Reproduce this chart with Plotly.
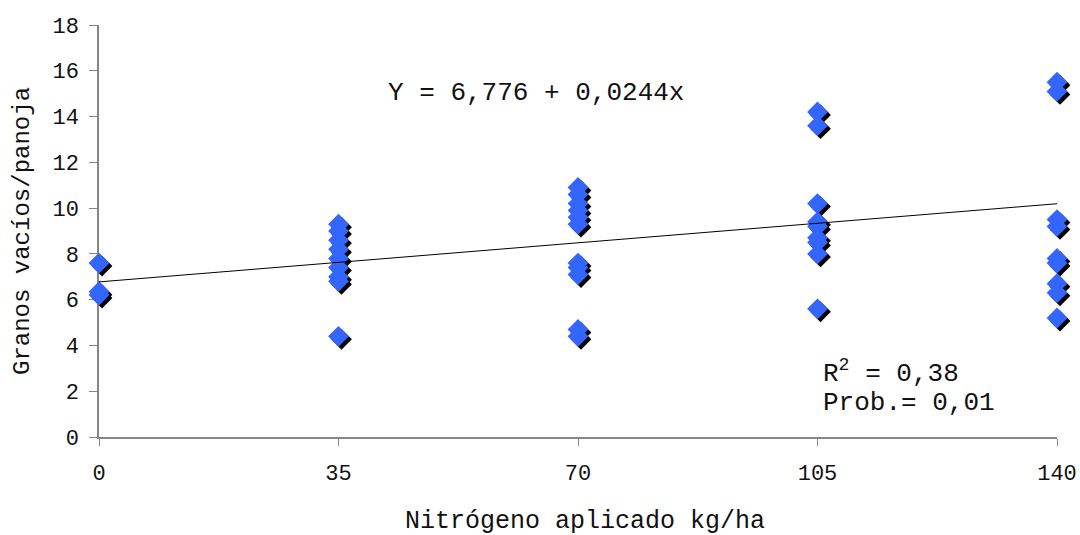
import plotly.graph_objects as go

# Nitrogen rate (kg/ha) and empty grains per panicle
nitrogen_levels = [0, 35, 70, 105, 140]
grains_n0 = [7.6, 6.35, 6.2]
grains_n35 = [9.3, 9.0, 8.6, 8.2, 7.8, 7.4, 7.0, 6.8, 4.4]
grains_n70 = [10.9, 10.6, 10.2, 9.9, 9.6, 9.3, 7.6, 7.4, 7.1, 4.7, 4.4]
grains_n105 = [14.2, 13.6, 10.2, 9.4, 9.2, 8.7, 8.5, 8.0, 5.6]
grains_n140 = [15.5, 15.1, 9.5, 9.2, 7.8, 7.6, 6.7, 6.3, 5.2]

# Fitted regression
intercept = 6.776
slope = 0.0244
fit_x = [0, 140]

y_ticks = list(range(0, 19, 2))

groups = [grains_n0, grains_n35, grains_n70, grains_n105, grains_n140]
xs, ys = [], []
for n, vals in zip(nitrogen_levels, groups):
    xs += [n] * len(vals)
    ys += vals
fit_y = [intercept + slope * v for v in fit_x]

FONT = "Liberation Mono, Courier New, monospace"
W, H = 1080, 535
# plot area in pixels
PL, PR, PT, PB = 99, 1057, 25, 437
SHADOW = 3  # pixel offset of the drop shadow


def px(xp):
    return xp / W


def py(yp):
    return 1 - yp / H


x_dom = [px(PL), px(PR)]
y_dom = [py(PB), py(PT)]
x_dom_shadow = [px(PL + SHADOW), px(PR + SHADOW)]
y_dom_shadow = [py(PB + SHADOW), py(PT + SHADOW)]

X_RANGE = [0, 140]
Y_RANGE = [0, 18]

fig = go.Figure()

# Empty trace so the base subplot (visible axes) exists
fig.add_trace(go.Scatter(x=[None], y=[None], mode="markers",
                         hoverinfo="skip", showlegend=False))
# Drop shadow: same points on an overlay whose domain is offset by a few pixels
fig.add_trace(go.Scatter(
    x=xs, y=ys, mode="markers", xaxis="x2", yaxis="y2",
    marker=dict(symbol="diamond", size=16, color="#000000", line=dict(width=0)),
    cliponaxis=False, hoverinfo="skip", showlegend=False,
))
fig.add_trace(go.Scatter(
    x=xs, y=ys, mode="markers", xaxis="x3", yaxis="y3",
    marker=dict(symbol="diamond", size=16, color="#3366ff", line=dict(width=0)),
    cliponaxis=False, showlegend=False,
))
fig.add_trace(go.Scatter(
    x=fit_x, y=fit_y, mode="lines", xaxis="x3", yaxis="y3",
    line=dict(color="#000000", width=1), cliponaxis=False, showlegend=False,
))

hidden = dict(visible=False, showgrid=False, zeroline=False, fixedrange=True)

fig.update_layout(
    width=W, height=H,
    margin=dict(l=0, r=0, t=0, b=0),
    paper_bgcolor="white", plot_bgcolor="rgba(0,0,0,0)",
    font=dict(family=FONT, color="#111111", size=22),
    xaxis=dict(
        domain=x_dom, range=X_RANGE, tickvals=nitrogen_levels, ticks="outside",
        ticklen=7, tickcolor="#868686", tickwidth=1, showline=True,
        linecolor="#868686", linewidth=1.5, showgrid=False, zeroline=False,
        layer="below traces", tickfont=dict(size=22), ticklabelstandoff=8,
        anchor="y", automargin=False,
    ),
    yaxis=dict(
        domain=y_dom, range=Y_RANGE, tickvals=y_ticks, ticks="outside",
        ticklen=8, tickcolor="#868686", tickwidth=1, showline=True,
        linecolor="#868686", linewidth=1.5, showgrid=False, zeroline=False,
        layer="below traces", tickfont=dict(size=22), ticklabelstandoff=6,
        anchor="x", automargin=False,
    ),
    xaxis2=dict(domain=x_dom_shadow, anchor="y2", range=X_RANGE, **hidden),
    yaxis2=dict(domain=y_dom_shadow, anchor="x2", range=Y_RANGE, **hidden),
    xaxis3=dict(domain=x_dom, anchor="y3", range=X_RANGE, **hidden),
    yaxis3=dict(domain=y_dom, anchor="x3", range=Y_RANGE, **hidden),
    annotations=[
        dict(text="Nitrógeno aplicado kg/ha", xref="paper", yref="paper",
             x=px(585), y=py(521), xanchor="center", yanchor="middle",
             showarrow=False, font=dict(size=25)),
        dict(text="Granos vacíos/panoja", xref="paper", yref="paper",
             x=px(22), y=py(231), xanchor="center", yanchor="middle",
             textangle=-90, showarrow=False, font=dict(size=24)),
        dict(text="Y = 6,776 + 0,0244x", xref="paper", yref="paper",
             x=px(386), y=py(93), xanchor="left", yanchor="middle",
             showarrow=False, font=dict(size=26)),
        dict(text="R<sup>2</sup> = 0,38", xref="paper", yref="paper",
             x=px(821), y=py(372), xanchor="left", yanchor="middle",
             showarrow=False, font=dict(size=26)),
        dict(text="Prob.= 0,01", xref="paper", yref="paper",
             x=px(821), y=py(403), xanchor="left", yanchor="middle",
             showarrow=False, font=dict(size=26)),
    ],
)

fig.write_html("out.html")
